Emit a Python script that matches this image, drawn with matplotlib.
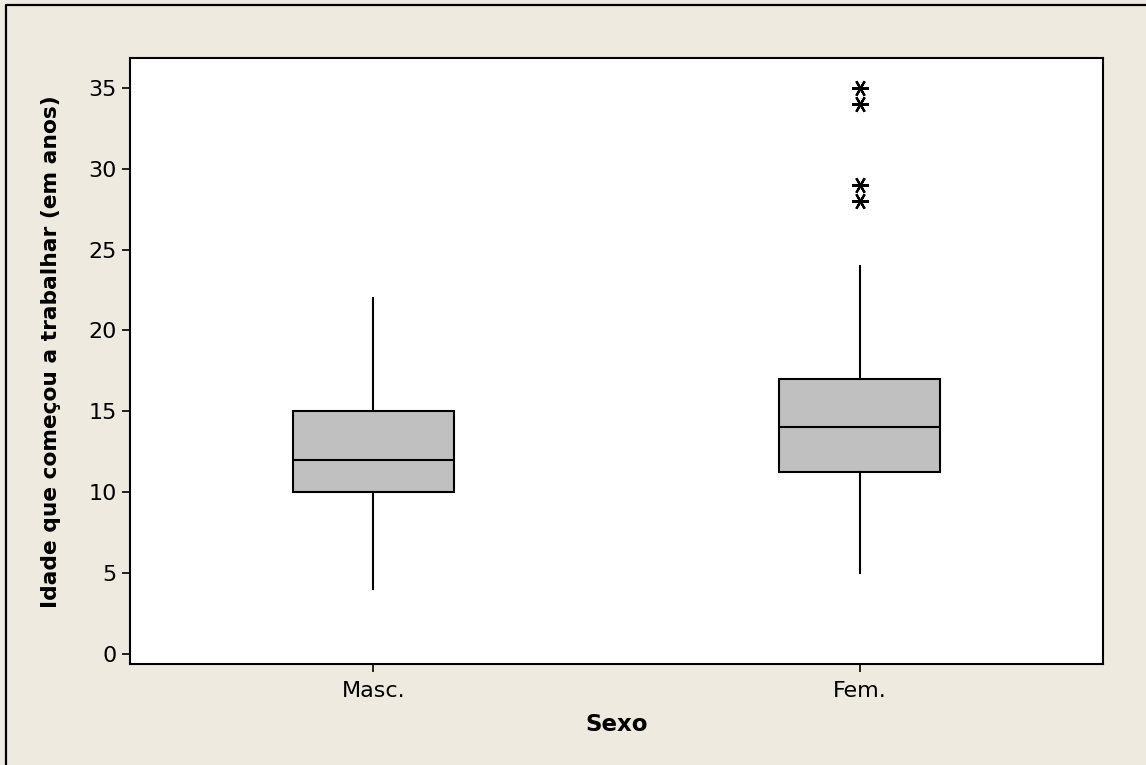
import matplotlib.pyplot as plt
from matplotlib.lines import Line2D

# Boxplot summaries
groups = ["Masc.", "Fem."]
whisker_low = [4, 5]
q1 = [10, 11.25]
median = [12, 14]
q3 = [15, 17]
whisker_high = [22, 24]
outliers = [[], [28, 29, 34, 35]]

y_ticks = [0, 5, 10, 15, 20, 25, 30, 35]

BG = "#EEEAE0"
W, H = 1146, 765

fig = plt.figure(figsize=(W / 100, H / 100), dpi=100, facecolor=BG)
# outer frame: only left and top edges show in the picture
fig.lines.append(Line2D([5.5 / W, 5.5 / W, 1.0], [0.0, 1 - 4.5 / H, 1 - 4.5 / H],
                        transform=fig.transFigure, color="black", linewidth=1.6))

ax = fig.add_axes([130 / W, 1 - 664 / H, (1103 - 130) / W, (664 - 58) / H])
ax.set_facecolor("white")

stats = []
for i, g in enumerate(groups):
    stats.append(dict(label=g, whislo=whisker_low[i], q1=q1[i], med=median[i],
                      q3=q3[i], whishi=whisker_high[i], fliers=outliers[i]))

ax.bxp(stats, positions=[1, 2], widths=0.33, patch_artist=True, showcaps=False,
       boxprops=dict(facecolor="#C0C0C0", edgecolor="black", linewidth=1.5),
       medianprops=dict(color="black", linewidth=1.5),
       whiskerprops=dict(color="black", linewidth=1.5),
       flierprops=dict(marker=(6, 2, 90), markersize=12, markeredgecolor="black",
                       markeredgewidth=1.6, linestyle="none"))

ax.set_xlim(0.5, 2.5)
ax.set_ylim(-0.64, 36.86)
ax.set_yticks(y_ticks)
ax.set_xticks([1, 2])
ax.set_xticklabels(groups)
ax.tick_params(axis="both", labelsize=16, length=6, width=1.2, direction="out")
ax.tick_params(axis="x", pad=6)

for s in ax.spines.values():
    s.set_linewidth(1.5)

ax.set_xlabel("Sexo", fontsize=16.5, fontweight="bold", labelpad=9)
ax.set_ylabel("Idade que começou a trabalhar (em anos)", fontsize=15.7,
              fontweight="bold")
ax.yaxis.set_label_coords(-0.071, 0.515)

fig.savefig("out.png", dpi=100, facecolor=BG)
